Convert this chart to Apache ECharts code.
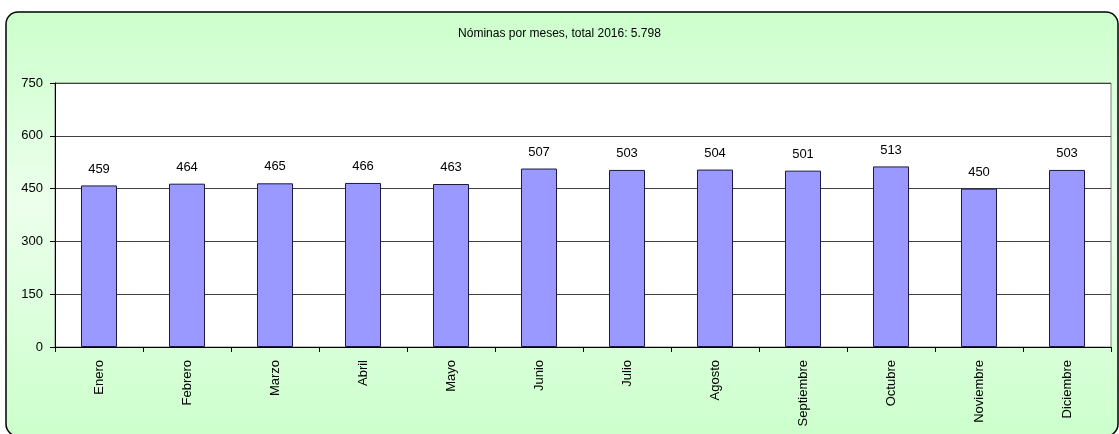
<!DOCTYPE html>
<html>
<head>
<meta charset="utf-8">
<script src="https://cdn.jsdelivr.net/npm/echarts@6/dist/echarts.min.js"></script>
<style>
html,body{margin:0;padding:0;background:#fff;}
#c{width:1119px;height:434px;}
</style>
</head>
<body>
<div id="c"></div>
<script>
const months = ['Enero','Febrero','Marzo','Abril','Mayo','Junio','Julio','Agosto','Septiembre','Octubre','Noviembre','Diciembre'];
const nominas = [459,464,465,466,463,507,503,504,501,513,450,503];
const yTicks = {min:0, max:750, interval:150};
const titleText = 'Nóminas por meses, total 2016: 5.798';

const chart = echarts.init(document.getElementById('c'), null, {renderer:'canvas'});
const font = '"Liberation Sans", Arial, sans-serif';
const fs = 13;
chart.setOption({
  backgroundColor:'#ffffff',
  animation:false,
  textStyle:{fontFamily:font},
  graphic:[{
    type:'rect', z:-10, silent:true,
    shape:{x:6,y:12,width:1112,height:424,r:12},
    style:{
      fill:{type:'linear',x:0,y:0,x2:0,y2:1,colorStops:[
        {offset:0,color:'#ccffcc'},
        {offset:0.45,color:'#ecffec'},
        {offset:1,color:'#ccffcc'}]},
      stroke:'#000', lineWidth:1.5
    }
  }],
  title:{
    text:titleText, left:'center', top:23,
    textStyle:{fontFamily:font,fontSize:12,fontWeight:'normal',color:'#000'}
  },
  grid:{left:55,right:8,top:83,bottom:87,show:true,outerBoundsMode:'none',containLabel:false,backgroundColor:'#ffffff',borderColor:'#808080',borderWidth:1},
  xAxis:{
    type:'category', data:months,
    axisLine:{show:true,lineStyle:{color:'#000',width:1}},
    axisTick:{show:true,alignWithLabel:false,length:5,lineStyle:{color:'#000'}},
    axisLabel:{rotate:90,margin:13,fontFamily:font,fontSize:fs,color:'#000',interval:0}
  },
  yAxis:{
    type:'value', min:yTicks.min, max:yTicks.max, interval:yTicks.interval,
    axisLine:{show:true,lineStyle:{color:'#000'}},
    axisTick:{show:true,length:5,lineStyle:{color:'#000'}},
    axisLabel:{margin:12,fontFamily:font,fontSize:fs,color:'#000'},
    splitLine:{show:true,lineStyle:{color:'#404040',width:1}}
  },
  series:[{
    type:'bar', data:nominas, barWidth:36,
    itemStyle:{color:'#9999ff',borderColor:'#1a1a40',borderWidth:1},
    label:{show:true,position:'top',distance:10,fontFamily:font,fontSize:fs,color:'#000'}
  }]
});
</script>
</body>
</html>
